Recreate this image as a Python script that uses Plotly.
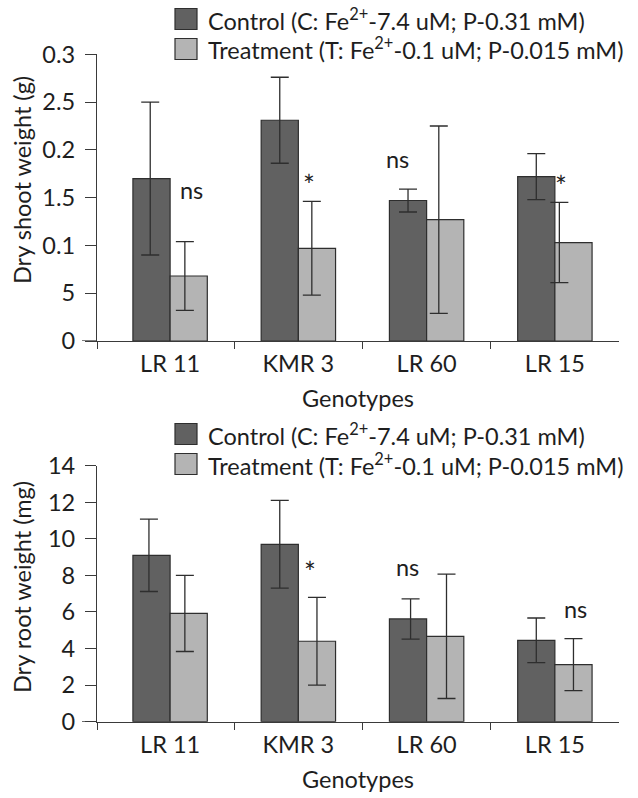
import plotly.graph_objects as go

# ---------------- data ----------------
genotypes = ["LR 11", "KMR 3", "LR 60", "LR 15"]

shoot_control = [0.170, 0.231, 0.147, 0.172]
shoot_control_sd = [0.080, 0.045, 0.012, 0.024]
shoot_treat = [0.068, 0.097, 0.127, 0.103]
shoot_treat_sd = [0.036, 0.049, 0.098, 0.042]
shoot_sig = ["ns", "*", "ns", "*"]

root_control = [9.10, 9.70, 5.62, 4.45]
root_control_sd = [1.98, 2.40, 1.10, 1.22]
root_treat = [5.92, 4.40, 4.67, 3.12]
root_treat_sd = [2.08, 2.40, 3.40, 1.42]
root_sig = ["", "*", "ns", "ns"]

shoot_ticks = [0, 0.05, 0.10, 0.15, 0.20, 0.25, 0.30]
shoot_tick_text = ["0", "5", "0.1", "1.5", "0.2", "2.5", "0.3"]
root_ticks = [0, 2, 4, 6, 8, 10, 12, 14]

legend_labels = ["Control (C: Fe<sup>2+</sup>-7.4 uM; P-0.31 mM)",
                 "Treatment (T: Fe<sup>2+</sup>-0.1 uM; P-0.015 mM)"]

# ---------------- style ----------------
W, H = 638, 798
FONT = "Lato"
FS = 23.5
TXT = "#1e1e1e"
C_DARK = "#616161"
C_LIGHT = "#b4b4b4"
EDGE = "#2e2e2e"
AXC = "#3a3a3a"
BAR_GAP = 0.42
HALF = (1 - BAR_GAP) / 4
X_RANGE = [-0.57, 3.5]
# small horizontal shifts of the drawn error bars (category units)
shift_shoot_c = [-0.01, 0.0, 0.0, 0.0]
shift_shoot_t = [-0.03, -0.04, -0.05, -0.11]
shift_root_c = [-0.02, 0.0, 0.02, 0.0]
shift_root_t = [-0.03, 0.0, 0.01, 0.0]

def px_x(p):
    return p / W

def px_y(p):
    return 1 - p / H

xs = list(range(len(genotypes)))
colors = [C_DARK, C_LIGHT]

fig = go.Figure()

def add_panel(ctrl, ctrl_sd, trt, trt_sd, shc, sht, xa, ya):
    for vals, col, name in ((ctrl, C_DARK, "Control"), (trt, C_LIGHT, "Treatment")):
        fig.add_trace(go.Bar(x=xs, y=vals, name=name,
                             marker=dict(color=col, line=dict(color=EDGE, width=1.2)),
                             showlegend=False, xaxis=xa, yaxis=ya, hoverinfo="skip"))
    for vals, sds, sgn, sh in ((ctrl, ctrl_sd, -1, shc), (trt, trt_sd, 1, sht)):
        fig.add_trace(go.Scatter(
            x=[i + sgn * HALF + sh[i] for i in xs], y=vals, mode="markers",
            marker=dict(size=1, opacity=0),
            error_y=dict(type="data", array=sds, visible=True, color=EDGE, thickness=1.3, width=9),
            showlegend=False, xaxis=xa, yaxis=ya, hoverinfo="skip"))

add_panel(shoot_control, shoot_control_sd, shoot_treat, shoot_treat_sd, shift_shoot_c, shift_shoot_t, "x", "y")
add_panel(root_control, root_control_sd, root_treat, root_treat_sd, shift_root_c, shift_root_t, "x2", "y2")

x_dom = [px_x(97), px_x(619)]
common_x = dict(
    range=X_RANGE, domain=x_dom, tickmode="array", tickvals=xs, ticktext=genotypes,
    ticks="outside", ticklen=0, tickcolor="rgba(0,0,0,0)", ticklabelstandoff=2,
    showline=True, linecolor=AXC, linewidth=1.3, showgrid=False, zeroline=False,
    tickfont=dict(family=FONT, size=FS, color=TXT),
    minor=dict(tickmode="array", tickvals=[-0.57, 0.5, 1.5, 2.5], ticks="outside", ticklen=7,
               tickcolor=AXC, tickwidth=1.3, showgrid=False),
    title=dict(text="Genotypes", font=dict(family=FONT, size=FS, color=TXT), standoff=14),
    automargin=False, fixedrange=True,
)
common_y = dict(
    ticks="outside", ticklen=11, tickcolor=AXC, tickwidth=1.3, ticklabelstandoff=5,
    showline=True, linecolor=AXC, linewidth=1.3, showgrid=False, zeroline=False,
    tickfont=dict(family=FONT, size=FS, color=TXT), automargin=False, fixedrange=True,
)

fig.update_layout(
    template="none",
    width=W, height=H, margin=dict(l=0, r=0, t=0, b=0, pad=0),
    paper_bgcolor="white", plot_bgcolor="white", showlegend=False,
    barmode="group", bargap=BAR_GAP, bargroupgap=0,
    font=dict(family=FONT, size=FS, color=TXT),
    xaxis=dict(anchor="y", **common_x),
    xaxis2=dict(anchor="y2", **common_x),
    yaxis=dict(anchor="x", domain=[px_y(341), px_y(54.3)], range=[0, 0.3], tickmode="array",
               tickvals=shoot_ticks, ticktext=shoot_tick_text, **common_y),
    yaxis2=dict(anchor="x2", domain=[px_y(721.7), px_y(465.7)], range=[0, 14], tickmode="array",
                tickvals=root_ticks, ticktext=[str(t) for t in root_ticks], **common_y),
)

# y-axis titles
for txt, yc in (("Dry shoot weight (g)", 180), ("Dry root weight (mg)", 587)):
    fig.add_annotation(x=px_x(22), y=px_y(yc), xref="paper", yref="paper", text=txt,
                       textangle=-90, showarrow=False, xanchor="center", yanchor="middle",
                       font=dict(family=FONT, size=FS, color=TXT))

# legends (drawn as swatches + text)
for rows in ((19, 49), (434, 464)):
    for lab, col, yc in zip(legend_labels, colors, rows):
        fig.add_shape(type="rect", xref="paper", yref="paper",
                      x0=px_x(175), x1=px_x(197), y0=px_y(yc - 10.5), y1=px_y(yc + 10.5),
                      fillcolor=col, line=dict(color=EDGE, width=1.2))
        fig.add_annotation(x=px_x(206), y=px_y(yc), xref="paper", yref="paper", text=lab,
                           showarrow=False, xanchor="left", yanchor="middle",
                           font=dict(family=FONT, size=FS, color=TXT))

# x-axis lines extend slightly left of the y-axes
for yr in ("y", "y2"):
    fig.add_shape(type="line", xref="paper", yref=yr, x0=px_x(82), x1=px_x(97), y0=0, y1=0,
                  line=dict(color=AXC, width=1.3))

# significance labels
sig_pos_shoot = [(0.17, 0.158), (1.08, 0.163), (1.77, 0.190), (3.05, 0.162)]
sig_pos_root = [(0.2, 0.0), (1.09, 8.2), (1.85, 8.46), (3.16, 6.16)]
for lab, (sx, sy) in zip(shoot_sig, sig_pos_shoot):
    if lab:
        fig.add_annotation(x=sx, y=sy, xref="x", yref="y", text=lab, showarrow=False,
                           font=dict(family=FONT, size=28 if lab == "*" else FS, color=TXT))
for lab, (sx, sy) in zip(root_sig, sig_pos_root):
    if lab:
        fig.add_annotation(x=sx, y=sy, xref="x2", yref="y2", text=lab, showarrow=False,
                           font=dict(family=FONT, size=28 if lab == "*" else FS, color=TXT))

fig.write_html("out.html")
